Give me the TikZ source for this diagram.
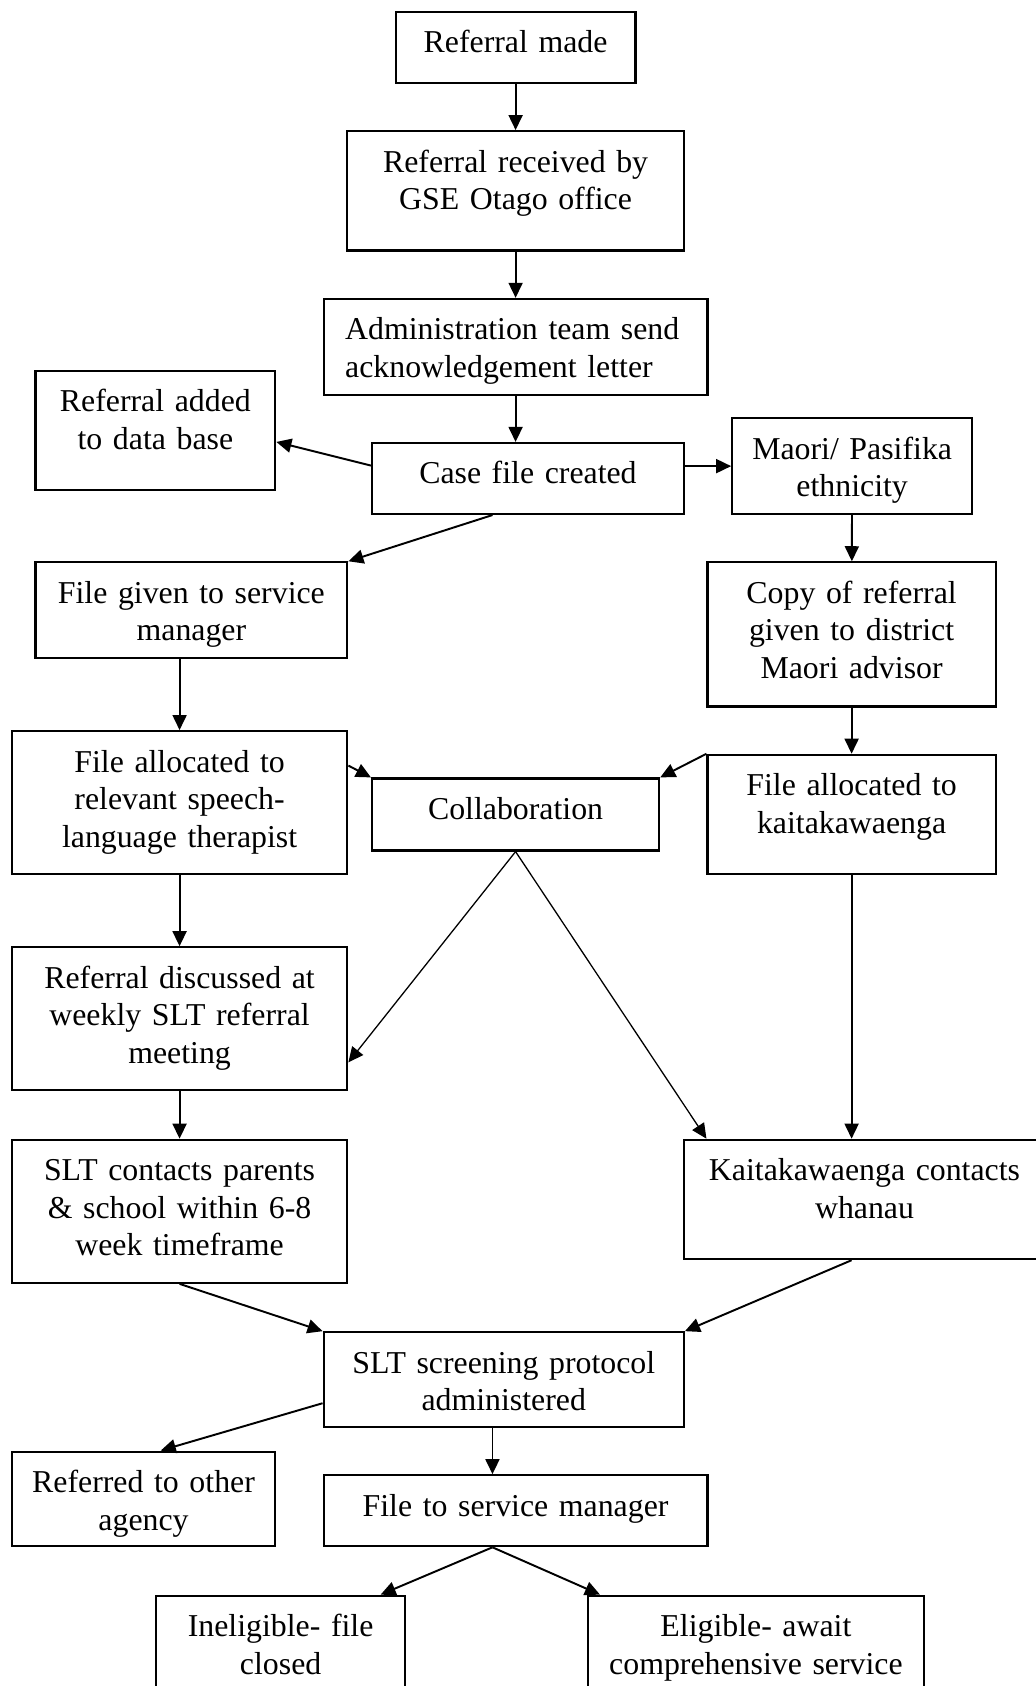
\documentclass[tikz,border=0pt]{standalone}
\usepackage{fontspec}
\setmainfont{Liberation Serif}
\usetikzlibrary{arrows.meta}

\begin{document}
\begin{tikzpicture}[
	x=0.5pt, y=-0.5pt,
	font=\fontsize{14.8}{17.5}\selectfont,
	box/.style = {rectangle, draw, line width=1pt, anchor=north west, align=center, inner xsep=0pt, inner ysep=0pt, text height=19pt},
	line/.style = {draw, line width=0.9pt, -{Triangle[length=7pt, width=6.5pt]}},
	thin line/.style = {line, line width=0.6pt}
	]
	\useasboundingbox (0,0) rectangle (963,1568);
	
	% Nodes
	\node [box, text width=111.5pt, text depth=14pt] (made) at (367,10) {Referral made};
	\node [box, text width=156.5pt, text depth=36.5pt] (received) at (322,121) {Referral received by\\ GSE Otago office};
	\node [box, align=left, inner xsep=10pt, text width=158.5pt, text depth=25.5pt] (admin) at (300,277) {Administration team send\\ acknowledgement letter};
	\node [box, text width=111.5pt, text depth=36.5pt] (database) at (32,344) {Referral added\\ to data base};
	\node [box, text width=145pt, text depth=14pt] (casefile) at (345,411) {Case file created};
	\node [box, text width=111.5pt, text depth=25.5pt] (ethnicity) at (680,388) {Maori/ Pasifika\\ ethnicity};
	\node [box, text width=145pt, text depth=25.5pt] (servicemgr) at (32,522) {File given to service\\ manager};
	\node [box, text width=134pt, text depth=48pt] (copy) at (657,522) {Copy of referral\\ given to district\\ Maori advisor};
	
	% Allocation and collaboration
	\node [box, text width=156pt, text depth=47.5pt] (allocslt) at (10,679) {File allocated to\\ relevant speech-\\ language therapist};
	\node [box, text width=133.5pt, text depth=14.5pt] (collab) at (345,723) {Collaboration};
	\node [box, text width=134pt, text depth=36.5pt] (allockai) at (657,701) {File allocated to\\ kaitakawaenga};
	\node [box, text width=156pt, text depth=47.5pt] (discussed) at (10,880) {Referral discussed at\\ weekly SLT referral\\ meeting};
	\node [box, text width=156pt, text depth=47.5pt] (contacts) at (10,1059) {SLT contacts parents\\ \& school within 6-8\\ week timeframe};
	\node [box, text width=168pt, text depth=36.5pt] (whanau) at (635,1059) {Kaitakawaenga contacts\\ whanau};
	
	% Screening
	\node [box, text width=167.5pt, text depth=25pt] (screening) at (300,1238) {SLT screening protocol\\ administered};
	\node [box, text width=122.5pt, text depth=25pt] (otheragency) at (10,1349) {Referred to other\\ agency};
	\node [box, text width=178.5pt, text depth=14pt] (filetosm) at (300,1371) {File to service manager};
	\node [box, text width=116pt, text depth=31pt] (ineligible) at (144,1483) {Ineligible- file\\ closed};
	\node [box, text width=156pt, text depth=31pt] (eligible) at (546,1483) {Eligible- await\\ comprehensive service};
	
	% Lines
	\path [line] (made) -- (received);
	\path [line] (received) -- (admin);
	\path [line] (admin) -- (admin |- casefile.north);
	\path [line] ([yshift=6pt]casefile.west) -- ([yshift=-5.25pt]database.east);
	\path [line] (casefile.east |- ethnicity) -- (ethnicity);
	\path [line] ([xshift=-16.5pt]casefile.south) -- (servicemgr.north east);
	\path [line] (ethnicity) -- (copy);
	\path [line] (allocslt |- servicemgr.south) -- (allocslt);
	\path [line] (copy) -- (allockai);
	
	\path [line] ([yshift=-16.5pt]allocslt.north east) -- (collab.north west);
	\path [line] (allockai.north west) -- (collab.north east);
	\path [thin line] (collab.south) -- ([yshift=-20.25pt]discussed.east);
	\path [thin line] (collab.south) -- ([xshift=11pt]whanau.north west);
	\path [line] (allockai) -- (allockai |- whanau.north);
	\path [line] (allocslt) -- (discussed);
	\path [line] (discussed) -- (contacts);
	
	\path [line] (contacts.south) -- (screening.north west);
	\path [line] ([xshift=-6pt]whanau.south) -- (screening.north east);
	\path [line] ([yshift=-11pt]screening.west) -- ([xshift=8pt]otheragency.north);
	\path [line] ([xshift=-5.25pt]screening.south) -- ([xshift=-10.75pt]filetosm.north);
	\path [line] ([xshift=-10.75pt]filetosm.south) -- ([xshift=46.5pt]ineligible.north);
	\path [line] ([xshift=-10.75pt]filetosm.south) -- ([xshift=6pt]eligible.north west);
\end{tikzpicture}
\end{document}
